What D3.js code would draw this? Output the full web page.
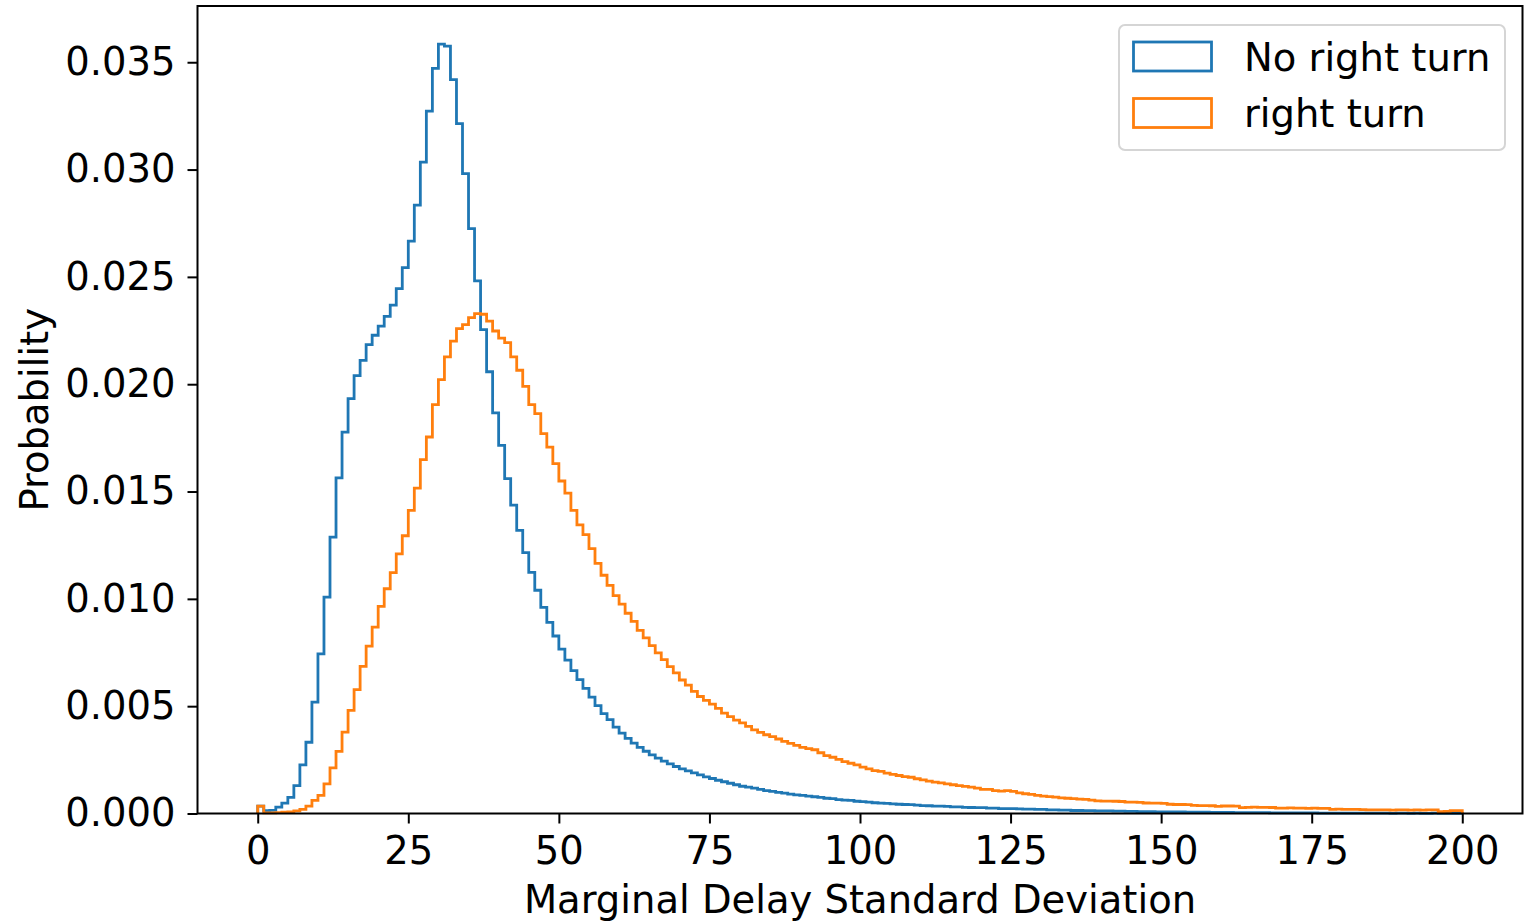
<!DOCTYPE html>
<html>
<head>
<meta charset="utf-8">
<script src="https://cdn.jsdelivr.net/npm/d3@7"></script>
<style>
  html, body { margin: 0; padding: 0; background: #fff; }
  svg { display: block; }
  text { font-family: "DejaVu Sans", sans-serif; fill: #000; }
</style>
</head>
<body>
<svg id="chart" width="1534" height="921"></svg>
<script>
// ---------------- data ----------------
const seriesNames = ["No right turn", "right turn"];
const seriesColors = ["#1f77b4", "#ff7f0e"];
const binEdges = d3.range(0, 201, 1); // 200 bins of width 1, 0..200

const noRightTurn = [
  0.00034,0.00013,0.00015,0.00030,0.00048,0.00075,0.00130,0.00227,0.00332,0.00519,
  0.00744,0.01008,0.01288,0.01564,0.01777,0.01933,0.02040,0.02111,0.02184,0.02228,
  0.02271,0.02316,0.02368,0.02445,0.02543,0.02667,0.02834,0.03035,0.03272,0.03471,
  0.03584,0.03575,0.03419,0.03214,0.02981,0.02725,0.02481,0.02254,0.02058,0.01866,
  0.01715,0.01560,0.01437,0.01319,0.01215,0.01123,0.01040,0.00960,0.00890,0.00827,
  0.00766,0.00715,0.00666,0.00624,0.00583,0.00542,0.00503,0.00465,0.00437,0.00402,
  0.00374,0.00350,0.00328,0.00308,0.00290,0.00273,0.00258,0.00244,0.00231,0.00219,
  0.00208,0.00199,0.00189,0.00180,0.00171,0.00163,0.00155,0.00148,0.00141,0.00134,
  0.00127,0.00123,0.00118,0.00112,0.00107,0.00103,0.00098,0.00095,0.00090,0.00087,
  0.00084,0.00081,0.00078,0.00075,0.00071,0.00069,0.00065,0.00062,0.00061,0.00057,
  0.00055,0.00053,0.00050,0.00048,0.00047,0.00045,0.00043,0.00042,0.00041,0.00039,
  0.00037,0.00036,0.00034,0.00034,0.00033,0.00031,0.00031,0.00029,0.00028,0.00027,
  0.00027,0.00025,0.00025,0.00023,0.00023,0.00023,0.00022,0.00020,0.00020,0.00019,
  0.00019,0.00017,0.00017,0.00016,0.00016,0.00014,0.00014,0.00013,0.00013,0.00012,
  0.00012,0.00012,0.00011,0.00011,0.00010,0.00010,0.00009,0.00009,0.00009,0.00008,
  0.00008,0.00007,0.00007,0.00007,0.00006,0.00006,0.00006,0.00006,0.00005,0.00005,
  0.00005,0.00005,0.00004,0.00004,0.00004,0.00004,0.00004,0.00004,0.00003,0.00003,
  0.00003,0.00003,0.00003,0.00003,0.00003,0.00003,0.00002,0.00002,0.00002,0.00002,
  0.00002,0.00002,0.00002,0.00002,0.00002,0.00002,0.00002,0.00002,0.00001,0.00002,
  0.00002,0.00001,0.00002,0.00001,0.00001,0.00002,0.00001,0.00001,0.00001,0.00001
];

const rightTurn = [
  0.00034,0.00003,0.00003,0.00004,0.00006,0.00008,0.00012,0.00019,0.00034,0.00061,
  0.00084,0.00138,0.00213,0.00289,0.00379,0.00480,0.00577,0.00685,0.00780,0.00868,
  0.00965,0.01047,0.01122,0.01210,0.01294,0.01412,0.01516,0.01649,0.01754,0.01905,
  0.02021,0.02127,0.02201,0.02259,0.02278,0.02310,0.02329,0.02326,0.02294,0.02248,
  0.02215,0.02194,0.02127,0.02065,0.01990,0.01905,0.01863,0.01770,0.01707,0.01630,
  0.01549,0.01493,0.01412,0.01345,0.01299,0.01234,0.01165,0.01110,0.01063,0.01015,
  0.00975,0.00933,0.00895,0.00853,0.00818,0.00782,0.00748,0.00717,0.00684,0.00655,
  0.00622,0.00598,0.00569,0.00545,0.00527,0.00510,0.00490,0.00468,0.00451,0.00435,
  0.00422,0.00406,0.00390,0.00378,0.00367,0.00358,0.00347,0.00336,0.00327,0.00317,
  0.00308,0.00302,0.00297,0.00283,0.00270,0.00262,0.00252,0.00242,0.00234,0.00227,
  0.00216,0.00208,0.00200,0.00196,0.00188,0.00182,0.00177,0.00172,0.00169,0.00162,
  0.00157,0.00151,0.00146,0.00143,0.00138,0.00134,0.00130,0.00126,0.00123,0.00118,
  0.00112,0.00112,0.00107,0.00104,0.00107,0.00103,0.00096,0.00092,0.00089,0.00084,
  0.00081,0.00079,0.00076,0.00073,0.00071,0.00069,0.00067,0.00066,0.00062,0.00059,
  0.00058,0.00058,0.00057,0.00056,0.00053,0.00053,0.00052,0.00049,0.00048,0.00048,
  0.00047,0.00043,0.00042,0.00042,0.00041,0.00038,0.00037,0.00037,0.00036,0.00033,
  0.00035,0.00035,0.00034,0.00027,0.00029,0.00030,0.00029,0.00029,0.00028,0.00025,
  0.00025,0.00026,0.00025,0.00025,0.00024,0.00025,0.00024,0.00024,0.00019,0.00020,
  0.00019,0.00019,0.00019,0.00018,0.00017,0.00017,0.00017,0.00017,0.00016,0.00017,
  0.00017,0.00016,0.00017,0.00016,0.00017,0.00017,0.00009,0.00010,0.00013,0.00013
];

const xTicks = [0, 25, 50, 75, 100, 125, 150, 175, 200];
const yTicks = [0, 0.005, 0.010, 0.015, 0.020, 0.025, 0.030, 0.035];
const xLabel = "Marginal Delay Standard Deviation";
const yLabel = "Probability";

// ---------------- layout ----------------
const svg = d3.select("#chart");
const plot = { left: 197.5, right: 1522.5, top: 6, bottom: 813.5 };
const FS = 38.5;

const x = d3.scaleLinear().domain([-10, 210]).range([plot.left, plot.right]);
const y = d3.scaleLinear().domain([0, 0.03762]).range([plot.bottom, plot.top]);

// histogram step outlines
function stepPoints(values) {
  const pts = [[x(binEdges[0]), y(0)]];
  values.forEach((v, i) => {
    pts.push([x(binEdges[i]), y(v)]);
    pts.push([x(binEdges[i + 1]), y(v)]);
  });
  pts.push([x(binEdges[binEdges.length - 1]), y(0)]);
  return pts;
}
const line = d3.line();
const gPlot = svg.append("g");
[noRightTurn, rightTurn].forEach((vals, i) => {
  gPlot.append("path")
    .attr("d", line(stepPoints(vals)))
    .attr("fill", "none")
    .attr("stroke", seriesColors[i])
    .attr("stroke-width", 2.8)
    .attr("stroke-linejoin", "miter");
});

// axes
const xAxis = d3.axisBottom(x).tickValues(xTicks).tickSize(10).tickPadding(13)
  .tickFormat(d3.format("d"));
const yAxis = d3.axisLeft(y).tickValues(yTicks).tickSize(10).tickPadding(12)
  .tickFormat(d3.format(".3f"));

const gx = svg.append("g").attr("transform", `translate(0,${plot.bottom})`).call(xAxis);
const gy = svg.append("g").attr("transform", `translate(${plot.left},0)`).call(yAxis);
[gx, gy].forEach(g => {
  g.select(".domain").remove();
  g.selectAll(".tick line").attr("stroke", "#000").attr("stroke-width", 2);
  g.selectAll(".tick text").style("font-size", FS + "px").attr("fill", "#000")
    .style("font-family", "DejaVu Sans");
});

// spines
svg.append("rect")
  .attr("x", plot.left).attr("y", plot.top)
  .attr("width", plot.right - plot.left).attr("height", plot.bottom - plot.top)
  .attr("fill", "none").attr("stroke", "#000").attr("stroke-width", 2);

// axis labels
svg.append("text")
  .attr("x", (plot.left + plot.right) / 2).attr("y", 913)
  .attr("text-anchor", "middle").style("font-size", FS + "px")
  .text(xLabel);
svg.append("text")
  .attr("transform", `translate(48,${(plot.top + plot.bottom) / 2}) rotate(-90)`)
  .attr("text-anchor", "middle").style("font-size", FS + "px")
  .text(yLabel);

// legend
const lg = svg.append("g");
lg.append("rect")
  .attr("x", 1119).attr("y", 25).attr("width", 386).attr("height", 125)
  .attr("rx", 6).attr("fill", "#fff").attr("fill-opacity", 0.8)
  .attr("stroke", "#d5d5d5").attr("stroke-width", 2);
seriesNames.forEach((name, i) => {
  const cy = 56.5 + i * 56.5;
  lg.append("rect")
    .attr("x", 1133.5).attr("y", cy - 14.5).attr("width", 78).attr("height", 29)
    .attr("fill", "none").attr("stroke", seriesColors[i]).attr("stroke-width", 2.8);
  lg.append("text")
    .attr("x", 1244).attr("y", cy + 14)
    .style("font-size", FS + "px")
    .text(name);
});
</script>
</body>
</html>
